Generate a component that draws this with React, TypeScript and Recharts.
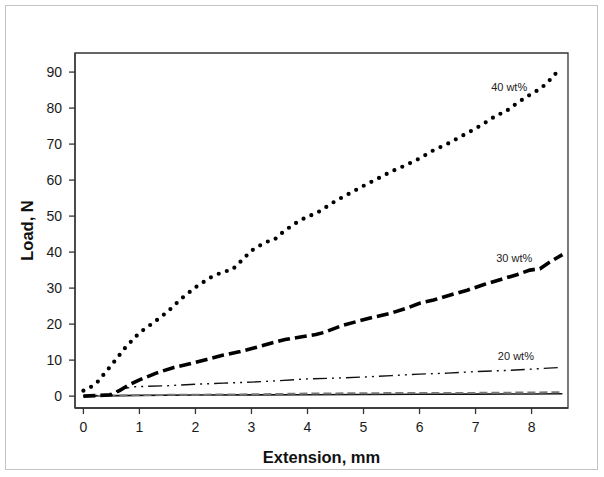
import React from 'react';
import { LineChart, Line, XAxis, YAxis, ReferenceArea, ReferenceDot } from 'recharts';

// 40 wt% (dotted)
const ext40 = [0, 0.13, 0.25, 0.5, 0.75, 1.0, 1.25, 1.5, 1.75, 2.0, 2.25, 2.5, 2.65, 2.75, 3.0, 3.25, 3.4, 3.5, 3.75, 4.0, 4.15, 4.5, 4.75, 5.0, 5.25, 5.5, 5.75, 6.0, 6.25, 6.5, 6.75, 7.0, 7.25, 7.4, 7.5, 7.75, 8.0, 8.15, 8.3, 8.4, 8.5];
const load40 = [1.5, 2.5, 3.9, 8.6, 13.5, 17.6, 20.4, 23.4, 27.1, 30.2, 32.8, 34.6, 35.0, 36.5, 40.4, 42.8, 43.3, 44.8, 47.7, 49.9, 50.7, 54.2, 56.3, 58.4, 60.4, 62.4, 64.1, 66.0, 68.3, 70.1, 72.2, 74.3, 76.7, 78.3, 78.6, 81.5, 84.0, 85.3, 87.3, 89.3, 90.1];

// 30 wt% (heavy dash)
const ext30 = [0, 0.3, 0.5, 0.65, 0.8, 1.0, 1.3, 1.6, 1.9, 2.2, 2.5, 2.8, 3.1, 3.4, 3.6, 3.9, 4.15, 4.3, 4.6, 4.9, 5.2, 5.5, 5.8, 6.0, 6.25, 6.55, 6.85, 7.15, 7.45, 7.75, 7.97, 8.15, 8.3, 8.55];
const load30 = [0, 0.2, 0.4, 1.6, 3.0, 4.5, 6.4, 7.9, 9.0, 10.2, 11.4, 12.4, 13.6, 14.9, 15.7, 16.5, 17.1, 17.7, 19.5, 20.8, 22.0, 23.1, 24.6, 25.8, 26.7, 28.1, 29.4, 31.0, 32.4, 33.8, 35.0, 35.4, 37.0, 39.3];

// 20 wt% (dash-dot-dot)
const ext20 = [0, 0.3, 0.5, 0.7, 0.9, 1.5, 2.0, 2.5, 3.0, 3.5, 4.0, 4.5, 5.0, 5.5, 6.0, 6.5, 7.0, 7.5, 8.0, 8.55];
const load20 = [0, 0.2, 0.8, 2.0, 2.6, 2.9, 3.3, 3.6, 3.9, 4.3, 4.8, 5.0, 5.3, 5.7, 6.1, 6.4, 6.8, 7.1, 7.5, 8.0];

// unlabeled curves near zero
const extLow = [0, 1, 2, 3, 4, 5, 6, 7, 8, 8.55];
const loadSolid = [0, 0.2, 0.3, 0.35, 0.4, 0.45, 0.5, 0.55, 0.6, 0.65];
const loadGrey = [0, 0.3, 0.4, 0.5, 0.7, 0.8, 0.9, 0.9, 1.0, 1.1];

const xTicks = [0, 1, 2, 3, 4, 5, 6, 7, 8];
const yTicks = [0, 10, 20, 30, 40, 50, 60, 70, 80, 90];
const xDomain = [-0.15, 8.65];
const yDomain = [-3.3, 95.3];

const labelText = ['40 wt%', '30 wt%', '20 wt%'];
const labelX = [7.6, 7.69, 7.72];
const labelY = [85.8, 38.3, 11.1];

const FONT = '"Liberation Sans", Arial, sans-serif';

function toPoints(xs: number[], ys: number[]) {
  return xs.map((x, i) => ({ x, y: ys[i] }));
}

const data40 = toPoints(ext40, load40);
const data30 = toPoints(ext30, load30);
const data20 = toPoints(ext20, load20);
const dataSolid = toPoints(extLow, loadSolid);
const dataGrey = toPoints(extLow, loadGrey);

export default function App() {
  const tick = { fontSize: 14, fill: '#1a1a1a', fontFamily: FONT };
  return (
    <div style={{ position: 'absolute', left: 0, top: 0, width: 604, height: 477, background: '#fff' }}>
      <div
        style={{
          position: 'absolute',
          left: 5,
          top: 5,
          width: 593,
          height: 465,
          boxSizing: 'border-box',
          border: '1.5px solid #c4c4c4',
        }}
      />
      <div style={{ position: 'absolute', left: 0, top: 0 }}>
        <LineChart width={604} height={477} margin={{ top: 53, right: 36, bottom: 9, left: 5 }}>
          <XAxis
            type="number"
            dataKey="x"
            domain={xDomain}
            ticks={xTicks}
            allowDataOverflow
            height={60}
            tick={tick}
            tickSize={6}
            tickMargin={8}
            stroke="#333"
            strokeWidth={1.3}
            label={{
              value: 'Extension, mm',
              position: 'insideBottom',
              offset: 5,
              style: { fontSize: 16.5, fontWeight: 'bold', fill: '#111', fontFamily: FONT },
            }}
          />
          <YAxis
            type="number"
            dataKey="y"
            domain={yDomain}
            ticks={yTicks}
            allowDataOverflow
            width={70}
            tick={tick}
            tickSize={6}
            tickMargin={7}
            stroke="#333"
            strokeWidth={1.3}
            label={{
              value: 'Load, N',
              angle: -90,
              position: 'insideLeft',
              offset: 22,
              style: { fontSize: 16.5, fontWeight: 'bold', fill: '#111', fontFamily: FONT, textAnchor: 'middle' },
            }}
          />
          <ReferenceArea
            x1={xDomain[0]}
            x2={xDomain[1]}
            y1={yDomain[0]}
            y2={yDomain[1]}
            fill="none"
            fillOpacity={0}
            stroke="#333"
            strokeWidth={1.3}
          />
          <Line
            data={dataSolid}
            dataKey="y"
            stroke="#111"
            strokeWidth={1.6}
            dot={false}
            isAnimationActive={false}
          />
          <Line
            data={dataGrey}
            dataKey="y"
            stroke="#777"
            strokeWidth={2}
            strokeDasharray="8 4"
            dot={false}
            isAnimationActive={false}
          />
          <Line
            data={data20}
            dataKey="y"
            stroke="#111"
            strokeWidth={1.4}
            strokeDasharray="14 5 2 5 2 5"
            dot={false}
            isAnimationActive={false}
          />
          <Line
            data={data30}
            dataKey="y"
            stroke="#000"
            strokeWidth={3.6}
            strokeDasharray="12 5"
            dot={false}
            isAnimationActive={false}
          />
          <Line
            data={data40}
            dataKey="y"
            stroke="#000"
            strokeWidth={4.2}
            strokeLinecap="round"
            strokeDasharray="0 8.6"
            dot={false}
            isAnimationActive={false}
          />
          {labelText.map((t, i) => (
            <ReferenceDot
              key={t}
              x={labelX[i]}
              y={labelY[i]}
              r={0}
              fill="none"
              stroke="none"
              label={{ value: t, position: 'center', fontSize: 11, fill: '#222', fontFamily: FONT }}
            />
          ))}
        </LineChart>
      </div>
    </div>
  );
}
